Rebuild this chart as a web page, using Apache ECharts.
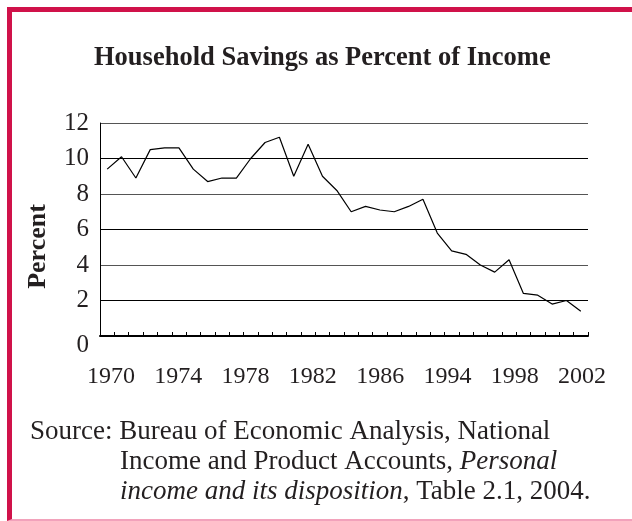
<!DOCTYPE html>
<html>
<head>
<meta charset="utf-8">
<script src="https://cdn.jsdelivr.net/npm/echarts@6/dist/echarts.min.js"></script>
<style>
  html, body { margin: 0; padding: 0; background: #fff; }
  #frame { position: absolute; left: 7px; top: 7px; width: 625px; height: 514px;
           border-top: 5px solid #d0124a; border-left: 5px solid #d0124a;
           border-bottom: 2px solid #f2a2bb; box-sizing: border-box; }
  #chart { position: absolute; left: 0; top: 0; width: 632px; height: 521px; }
</style>
</head>
<body>
<div id="frame"></div>
<div id="chart"></div>
<script>
// Data
const years = ['1970','1971','1972','1973','1974','1975','1976','1977','1978','1979',
               '1980','1981','1982','1983','1984','1985','1986','1987','1988','1989',
               '1990','1991','1992','1993','1994','1995','1996','1997','1998','1999',
               '2000','2001','2002','2003'];
const savingsRate = [9.4, 10.1, 8.9, 10.5, 10.6, 10.6, 9.4, 8.7, 8.9, 8.9,
                     10.0, 10.9, 11.2, 9.0, 10.8, 9.0, 8.2, 7.0, 7.3, 7.1,
                     7.0, 7.3, 7.7, 5.8, 4.8, 4.6, 4.0, 3.6, 4.3, 2.4,
                     2.3, 1.8, 2.0, 1.4];
const xTickLabels = ['1970','1974','1978','1982','1986','1994','1998','2002'];
const titleText = 'Household Savings as Percent of Income';
const yAxisName = 'Percent';
const sourceLines = [
  'Source: Bureau of Economic Analysis, National',
  'Income and Product Accounts, {i|Personal}',
  '{i|income and its disposition}, Table 2.1, 2004.'
];

const FONT = '"Liberation Serif", "Times New Roman", serif';
const TXT = '#231f20';
const SRC_SIZE = 27;

const chart = echarts.init(document.getElementById('chart'), null, {renderer: 'canvas'});
const srcPos = [[30, 433], [120, 463], [120, 493]];
chart.setOption({
  backgroundColor: 'transparent',
  animation: false,
  title: {
    text: titleText,
    left: 94,
    top: 45,
    padding: 0,
    textStyle: { fontFamily: FONT, fontWeight: 'bold', fontSize: 26.5, color: TXT }
  },
  graphic: sourceLines.map((t, i) => ({
    type: 'text',
    left: srcPos[i][0],
    top: srcPos[i][1] - 15,
    style: {
      text: t,
      font: SRC_SIZE + 'px ' + FONT,
      fill: TXT,
      rich: { i: { fontStyle: 'italic', fontFamily: FONT, fontSize: SRC_SIZE, fill: TXT } }
    }
  })),
  grid: [
    { left: 100, right: 44, top: 123, bottom: 185, containLabel: false },
    { left: 111, right: 50, top: 123, bottom: 185, containLabel: false }
  ],
  xAxis: [
    {
      type: 'category', gridIndex: 0, data: years, boundaryGap: true,
      axisLine: { show: true, lineStyle: { color: '#000', width: 2 } },
      axisTick: { show: true, inside: true, length: 4, interval: 0, lineStyle: { color: '#000', width: 1 } },
      axisLabel: { show: false },
      splitLine: { show: false }
    },
    {
      type: 'category', gridIndex: 1, data: xTickLabels, boundaryGap: false,
      axisLine: { show: false }, axisTick: { show: false },
      axisLabel: { show: true, interval: 0, margin: 29, fontFamily: FONT, fontSize: 24, color: TXT },
      splitLine: { show: false }
    }
  ],
  yAxis: [
    {
      type: 'value', gridIndex: 0, min: 0, max: 12, interval: 2,
      name: yAxisName, nameLocation: 'middle', nameGap: 49, nameRotate: 90,
      nameTextStyle: { fontFamily: FONT, fontWeight: 'bold', fontSize: 26, color: TXT, padding: [0, 34, 0, 0] },
      axisLine: { show: true, lineStyle: { color: '#000', width: 1 } },
      axisTick: { show: false },
      axisLabel: {
        margin: 11, fontFamily: FONT, fontSize: 25, color: TXT,
        formatter: v => v === 0 ? '{z|0}' : String(v),
        rich: { z: { fontFamily: FONT, fontSize: 25, color: TXT, padding: [18, 0, 0, 0] } }
      },
      splitLine: { show: true, lineStyle: { color: ['#555', '#000'], width: 1 } }
    },
    { type: 'value', gridIndex: 1, show: false, min: 0, max: 12 }
  ],
  series: [{
    type: 'line', xAxisIndex: 0, yAxisIndex: 0,
    data: savingsRate, symbol: 'none',
    lineStyle: { color: '#000', width: 1.2 }
  }]
});
</script>
</body>
</html>
